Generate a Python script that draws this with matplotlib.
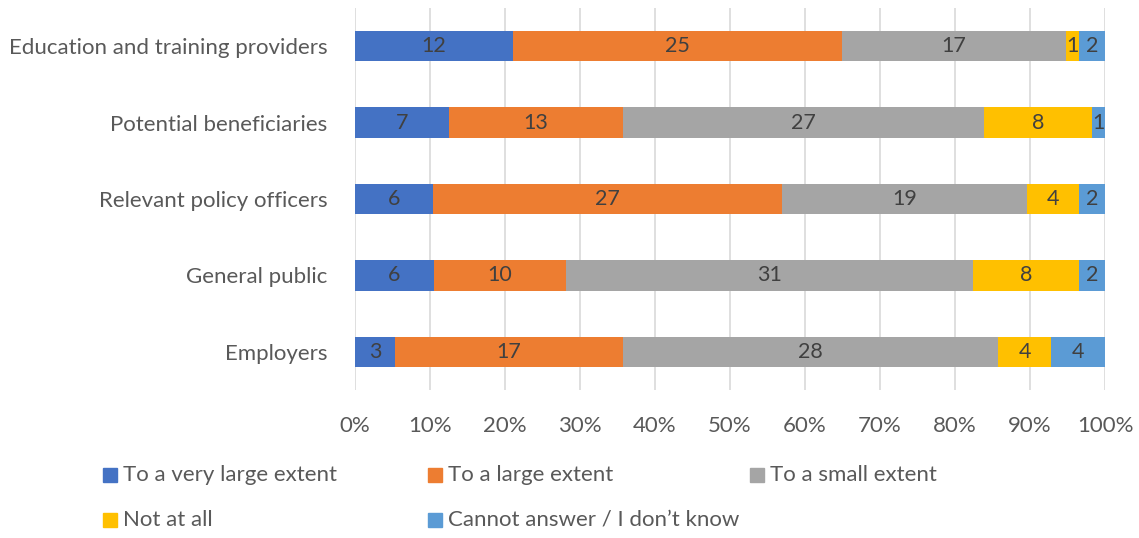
import numpy as np
import matplotlib.pyplot as plt
from matplotlib.patches import Rectangle

plt.rcParams['font.family'] = ['Lato', 'DejaVu Sans']

# stakeholder groups, bottom to top
groups = ['Employers', 'General public', 'Relevant policy officers',
          'Potential beneficiaries', 'Education and training providers']
answers = ['To a very large extent', 'To a large extent', 'To a small extent',
           'Not at all', 'Cannot answer / I don\u2019t know']

very_large = [3, 6, 6, 7, 12]
large = [17, 10, 27, 13, 25]
small = [28, 31, 19, 27, 17]
not_at_all = [4, 8, 4, 8, 1]
cannot_answer = [4, 2, 2, 1, 2]

colors = ['#4472C4', '#ED7D31', '#A5A5A5', '#FFC000', '#5B9BD5']

counts = np.array([very_large, large, small, not_at_all, cannot_answer], dtype=float)
shares = counts / counts.sum(axis=0)

fig = plt.figure(figsize=(11.39, 5.38), dpi=100)
ax = fig.add_axes([355/1139, 1-390/538, 750/1139, 382/538])

y = np.arange(len(groups))
left = np.zeros(len(groups))
for i in range(len(answers)):
    ax.barh(y, shares[i], left=left, height=0.4, color=colors[i], zorder=2)
    for j in range(len(groups)):
        ax.text(left[j] + shares[i][j]/2, y[j], '%d' % counts[i][j],
                ha='center', va='center', fontsize=15.5, color='#404040', zorder=3)
    left += shares[i]

ax.set_xlim(0, 1)
ax.set_ylim(-0.5, 4.5)
ax.set_xticks(np.linspace(0, 1, 11))
ax.set_xticklabels(['%d%%' % v for v in range(0, 101, 10)])
ax.set_yticks(y)
ax.set_yticklabels(groups)
ax.tick_params(length=0, labelsize=16, labelcolor='#595959')
ax.tick_params(axis='x', pad=19)
ax.tick_params(axis='y', pad=20)
ax.xaxis.grid(True, color='#D9D9D9', linewidth=1.2, zorder=0)
for s in ax.spines.values():
    s.set_visible(False)

# legend laid out in fixed columns
legend_pos = [(103, 475), (428, 475), (750, 475), (103, 520), (428, 520)]
for (px, py), lab, c in zip(legend_pos, answers, colors):
    fig.patches.append(Rectangle((px/1139, 1-(py+7)/538), 14/1139, 14/538,
                                 transform=fig.transFigure, color=c))
    fig.text((px+20)/1139, 1-py/538, lab, ha='left', va='center',
             fontsize=16, color='#595959')

fig.savefig('out.png', dpi=100)
